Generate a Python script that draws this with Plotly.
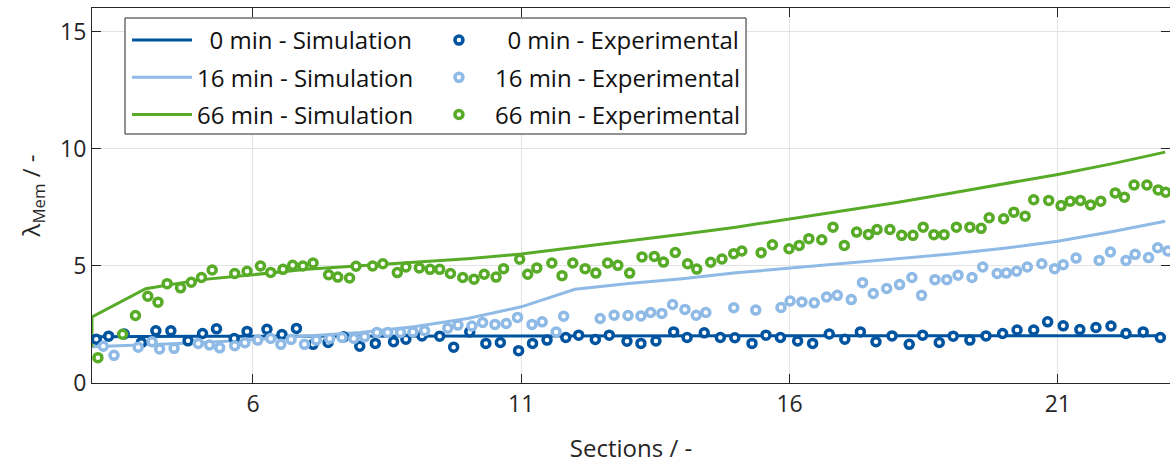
import plotly.graph_objects as go

# ---------------- data ----------------
sections_sim = [3, 3, 4, 5, 6, 7, 8, 9, 10, 11, 12, 13, 14, 15, 16, 17, 18, 19, 20, 21, 22, 23]
sim_0 = [1.97, 1.97, 2.0, 2.0, 2.0, 2.0, 2.0, 2.0, 2.0, 2.0, 2.0, 2.0, 2.0, 2.0, 2.0, 2.0, 2.0, 2.0, 2.0, 2.0, 2.0, 2.02]
sim_16 = [1.55, 1.55, 1.62, 1.72, 1.85, 2.0, 2.15, 2.4, 2.75, 3.25, 4.0, 4.25, 4.45, 4.7, 4.9, 5.1, 5.3, 5.5, 5.75, 6.05, 6.45, 6.9]
sim_66 = [1.55, 2.82, 4.02, 4.4, 4.62, 4.85, 5.0, 5.15, 5.3, 5.5, 5.78, 6.05, 6.35, 6.65, 7.0, 7.35, 7.7, 8.1, 8.5, 8.9, 9.35, 9.85]

exp_0_x = [3.08, 3.31, 3.60, 3.92, 4.19, 4.47, 4.79, 5.06, 5.32, 5.65, 5.89, 6.26, 6.54, 6.81, 7.12, 7.40, 7.69, 7.99,
           8.28, 8.62, 8.85, 9.15, 9.48, 9.74, 10.04, 10.34, 10.61, 10.95, 11.21, 11.48, 11.83, 12.07, 12.38, 12.64,
           12.97, 13.23, 13.51, 13.84, 14.09, 14.41, 14.71, 14.98, 15.30, 15.56, 15.83, 16.15, 16.43, 16.74, 17.03,
           17.32, 17.61, 17.91, 18.23, 18.48, 18.79, 19.05, 19.36, 19.66, 19.97, 20.24, 20.55, 20.81, 21.10, 21.41,
           21.71, 21.99, 22.27, 22.59, 22.91]
exp_0_y = [1.87, 2.00, 2.09, 1.72, 2.23, 2.23, 1.80, 2.11, 2.31, 1.90, 2.20, 2.29, 2.07, 2.33, 1.65, 1.73, 1.97, 1.57,
           1.69, 1.76, 1.87, 2.01, 2.00, 1.53, 2.18, 1.69, 1.73, 1.38, 1.69, 1.83, 1.94, 2.04, 1.86, 2.04,
           1.78, 1.69, 1.79, 2.18, 1.94, 2.14, 1.94, 1.93, 1.69, 2.04, 1.94, 1.79, 1.69, 2.09, 1.87,
           2.18, 1.76, 2.01, 1.65, 2.04, 1.73, 2.00, 1.83, 2.01, 2.11, 2.26, 2.26, 2.61, 2.44, 2.28,
           2.37, 2.43, 2.11, 2.18, 1.94]

exp_16_x = [3.21, 3.41, 3.86, 4.12, 4.26, 4.53, 4.98, 5.19, 5.38, 5.66, 5.85, 6.09, 6.33, 6.52, 6.71, 6.96, 7.18, 7.43,
            7.66, 7.88, 8.08, 8.31, 8.51, 8.75, 8.98, 9.20, 9.63, 9.82, 10.08, 10.28, 10.51, 10.72, 10.93, 11.20,
            11.39, 11.65, 11.79, 12.47, 12.73, 12.99, 13.23, 13.41, 13.62, 13.82, 14.05, 14.26, 14.44, 14.96, 15.37,
            15.84, 16.01, 16.23, 16.46, 16.69, 16.89, 17.15, 17.36, 17.56, 17.81, 18.05, 18.28, 18.46, 18.71, 18.93,
            19.14, 19.40, 19.60, 19.87, 20.04, 20.23, 20.43, 20.70, 20.94, 21.10, 21.34, 21.77, 21.98, 22.27, 22.44,
            22.69, 22.86, 23.05]
exp_16_y = [1.57, 1.18, 1.53, 1.76, 1.45, 1.48, 1.69, 1.62, 1.50, 1.59, 1.72, 1.83, 1.90, 1.65, 1.86, 1.65, 1.83, 1.90,
            1.94, 1.90, 1.97, 2.16, 2.16, 2.16, 2.18, 2.23, 2.34, 2.47, 2.43, 2.58, 2.50, 2.54, 2.80, 2.50,
            2.61, 2.18, 2.85, 2.75, 2.89, 2.88, 2.86, 3.01, 2.97, 3.35, 3.14, 2.89, 3.01, 3.21, 3.11,
            3.22, 3.50, 3.46, 3.42, 3.67, 3.74, 3.56, 4.28, 3.82, 4.03, 4.20, 4.50, 3.74, 4.41, 4.41,
            4.60, 4.50, 4.95, 4.67, 4.69, 4.77, 4.95, 5.09, 4.88, 5.05, 5.33, 5.23, 5.59, 5.23, 5.49,
            5.35, 5.77, 5.63]

exp_66_x = [3.11, 3.57, 3.81, 4.04, 4.23, 4.40, 4.65, 4.85, 5.04, 5.24, 5.66, 5.89, 6.14, 6.33, 6.56, 6.74, 6.93, 7.12,
            7.41, 7.58, 7.80, 7.92, 8.23, 8.42, 8.69, 8.85, 9.10, 9.30, 9.48, 9.68, 9.91, 10.12, 10.31, 10.53,
            10.67, 10.97, 11.12, 11.29, 11.57, 11.76, 11.96, 12.19, 12.39, 12.61, 12.80, 13.02, 13.25, 13.48, 13.65,
            13.87, 14.10, 14.27, 14.53, 14.74, 14.96, 15.11, 15.47, 15.68, 15.99, 16.18, 16.36, 16.60, 16.81, 17.02,
            17.25, 17.47, 17.63, 17.87, 18.09, 18.30, 18.49, 18.69, 18.88, 19.11, 19.36, 19.57, 19.72, 19.99, 20.18,
            20.39, 20.55, 20.83, 21.06, 21.23, 21.42, 21.61, 21.80, 22.07, 22.24, 22.42, 22.66, 22.87, 23.01]
exp_66_y = [1.08, 2.08, 2.88, 3.70, 3.45, 4.24, 4.06, 4.30, 4.50, 4.82, 4.67, 4.77, 4.99, 4.72, 4.85, 5.02, 4.99, 5.12,
            4.62, 4.52, 4.48, 4.98, 4.99, 5.09, 4.71, 4.95, 4.91, 4.85, 4.85, 4.67, 4.50, 4.43, 4.64, 4.52,
            4.88, 5.28, 4.64, 4.91, 5.12, 4.58, 5.12, 4.88, 4.69, 5.12, 5.02, 4.69, 5.38, 5.40, 5.16,
            5.57, 5.09, 4.86, 5.15, 5.29, 5.52, 5.63, 5.56, 5.90, 5.73, 5.87, 6.16, 6.11, 6.65, 5.87,
            6.44, 6.34, 6.55, 6.55, 6.30, 6.30, 6.65, 6.33, 6.33, 6.65, 6.65, 6.60, 7.05, 7.01, 7.29,
            7.12, 7.82, 7.79, 7.57, 7.76, 7.79, 7.60, 7.76, 8.11, 7.93, 8.45, 8.45, 8.24, 8.14]

x_ticks = [6, 11, 16, 21]
y_ticks = [0, 5, 10, 15]

C0 = "#00549F"
C16 = "#8EBAE5"
C66 = "#57AB27"
AX = "#262626"
FONT = "Open Sans"
LEG_SIZE = 24

NB = "\u00a0\u00a0"
fig = go.Figure()

for name, y, c in [(NB + "0 min - Simulation", sim_0, C0),
                   ("16 min - Simulation", sim_16, C16),
                   ("66 min - Simulation", sim_66, C66)]:
    fig.add_trace(go.Scatter(x=sections_sim, y=y, mode="lines", name=name,
                             line=dict(color=c, width=3), legend="legend",
                             legendgroup=name))

for name, xs, ys, c in [(NB + "0 min - Experimental", exp_0_x, exp_0_y, C0),
                        ("16 min - Experimental", exp_16_x, exp_16_y, C16),
                        ("66 min - Experimental", exp_66_x, exp_66_y, C66)]:
    fig.add_trace(go.Scatter(x=xs, y=ys, mode="markers", name=name,
                             marker=dict(symbol="circle", size=8, color="white",
                                         line=dict(color=c, width=3.5)),
                             legend="legend2", legendgroup=name))

axis_common = dict(showline=True, linecolor=AX, linewidth=1, mirror="ticks",
                   ticks="inside", ticklen=9, tickcolor=AX, tickwidth=1,
                   showgrid=True, gridcolor="#e3e3e3", gridwidth=1, zeroline=False,
                   tickfont=dict(size=23, color=AX, family=FONT))

fig.update_layout(
    width=1170, height=464,
    margin=dict(l=92, r=0, t=8, b=81),
    paper_bgcolor="white", plot_bgcolor="white",
    font=dict(family=FONT, color=AX, size=23),
    xaxis=dict(range=[3, 23.09], tickvals=x_ticks, ticktext=[str(v) for v in x_ticks],
               title=dict(text="Sections / -", font=dict(size=24, color=AX), standoff=24),
               **axis_common),
    yaxis=dict(range=[0, 16], tickvals=y_ticks, ticktext=[str(v) for v in y_ticks],
               title=dict(text="λ<sub>Mem</sub> / -", font=dict(size=24, color=AX), standoff=12),
               **axis_common),
    legend=dict(x=0.0325, y=0.9733, xanchor="left", yanchor="top", bgcolor="rgba(0,0,0,0)",
                borderwidth=0, font=dict(size=LEG_SIZE, color="#111111", family=FONT),
                itemwidth=60, tracegroupgap=3, traceorder="grouped"),
    legend2=dict(x=0.307, y=0.9733, xanchor="left", yanchor="top", bgcolor="rgba(0,0,0,0)",
                 borderwidth=0, font=dict(size=LEG_SIZE, color="#111111", family=FONT),
                 itemwidth=62, tracegroupgap=3, traceorder="grouped"),
    shapes=[dict(type="rect", xref="paper", yref="paper", x0=0.0306, x1=0.6067, y0=0.664, y1=0.9733,
                 fillcolor="white", line=dict(color=AX, width=1), layer="above")],
    showlegend=True,
)

fig.write_html("out.html")
